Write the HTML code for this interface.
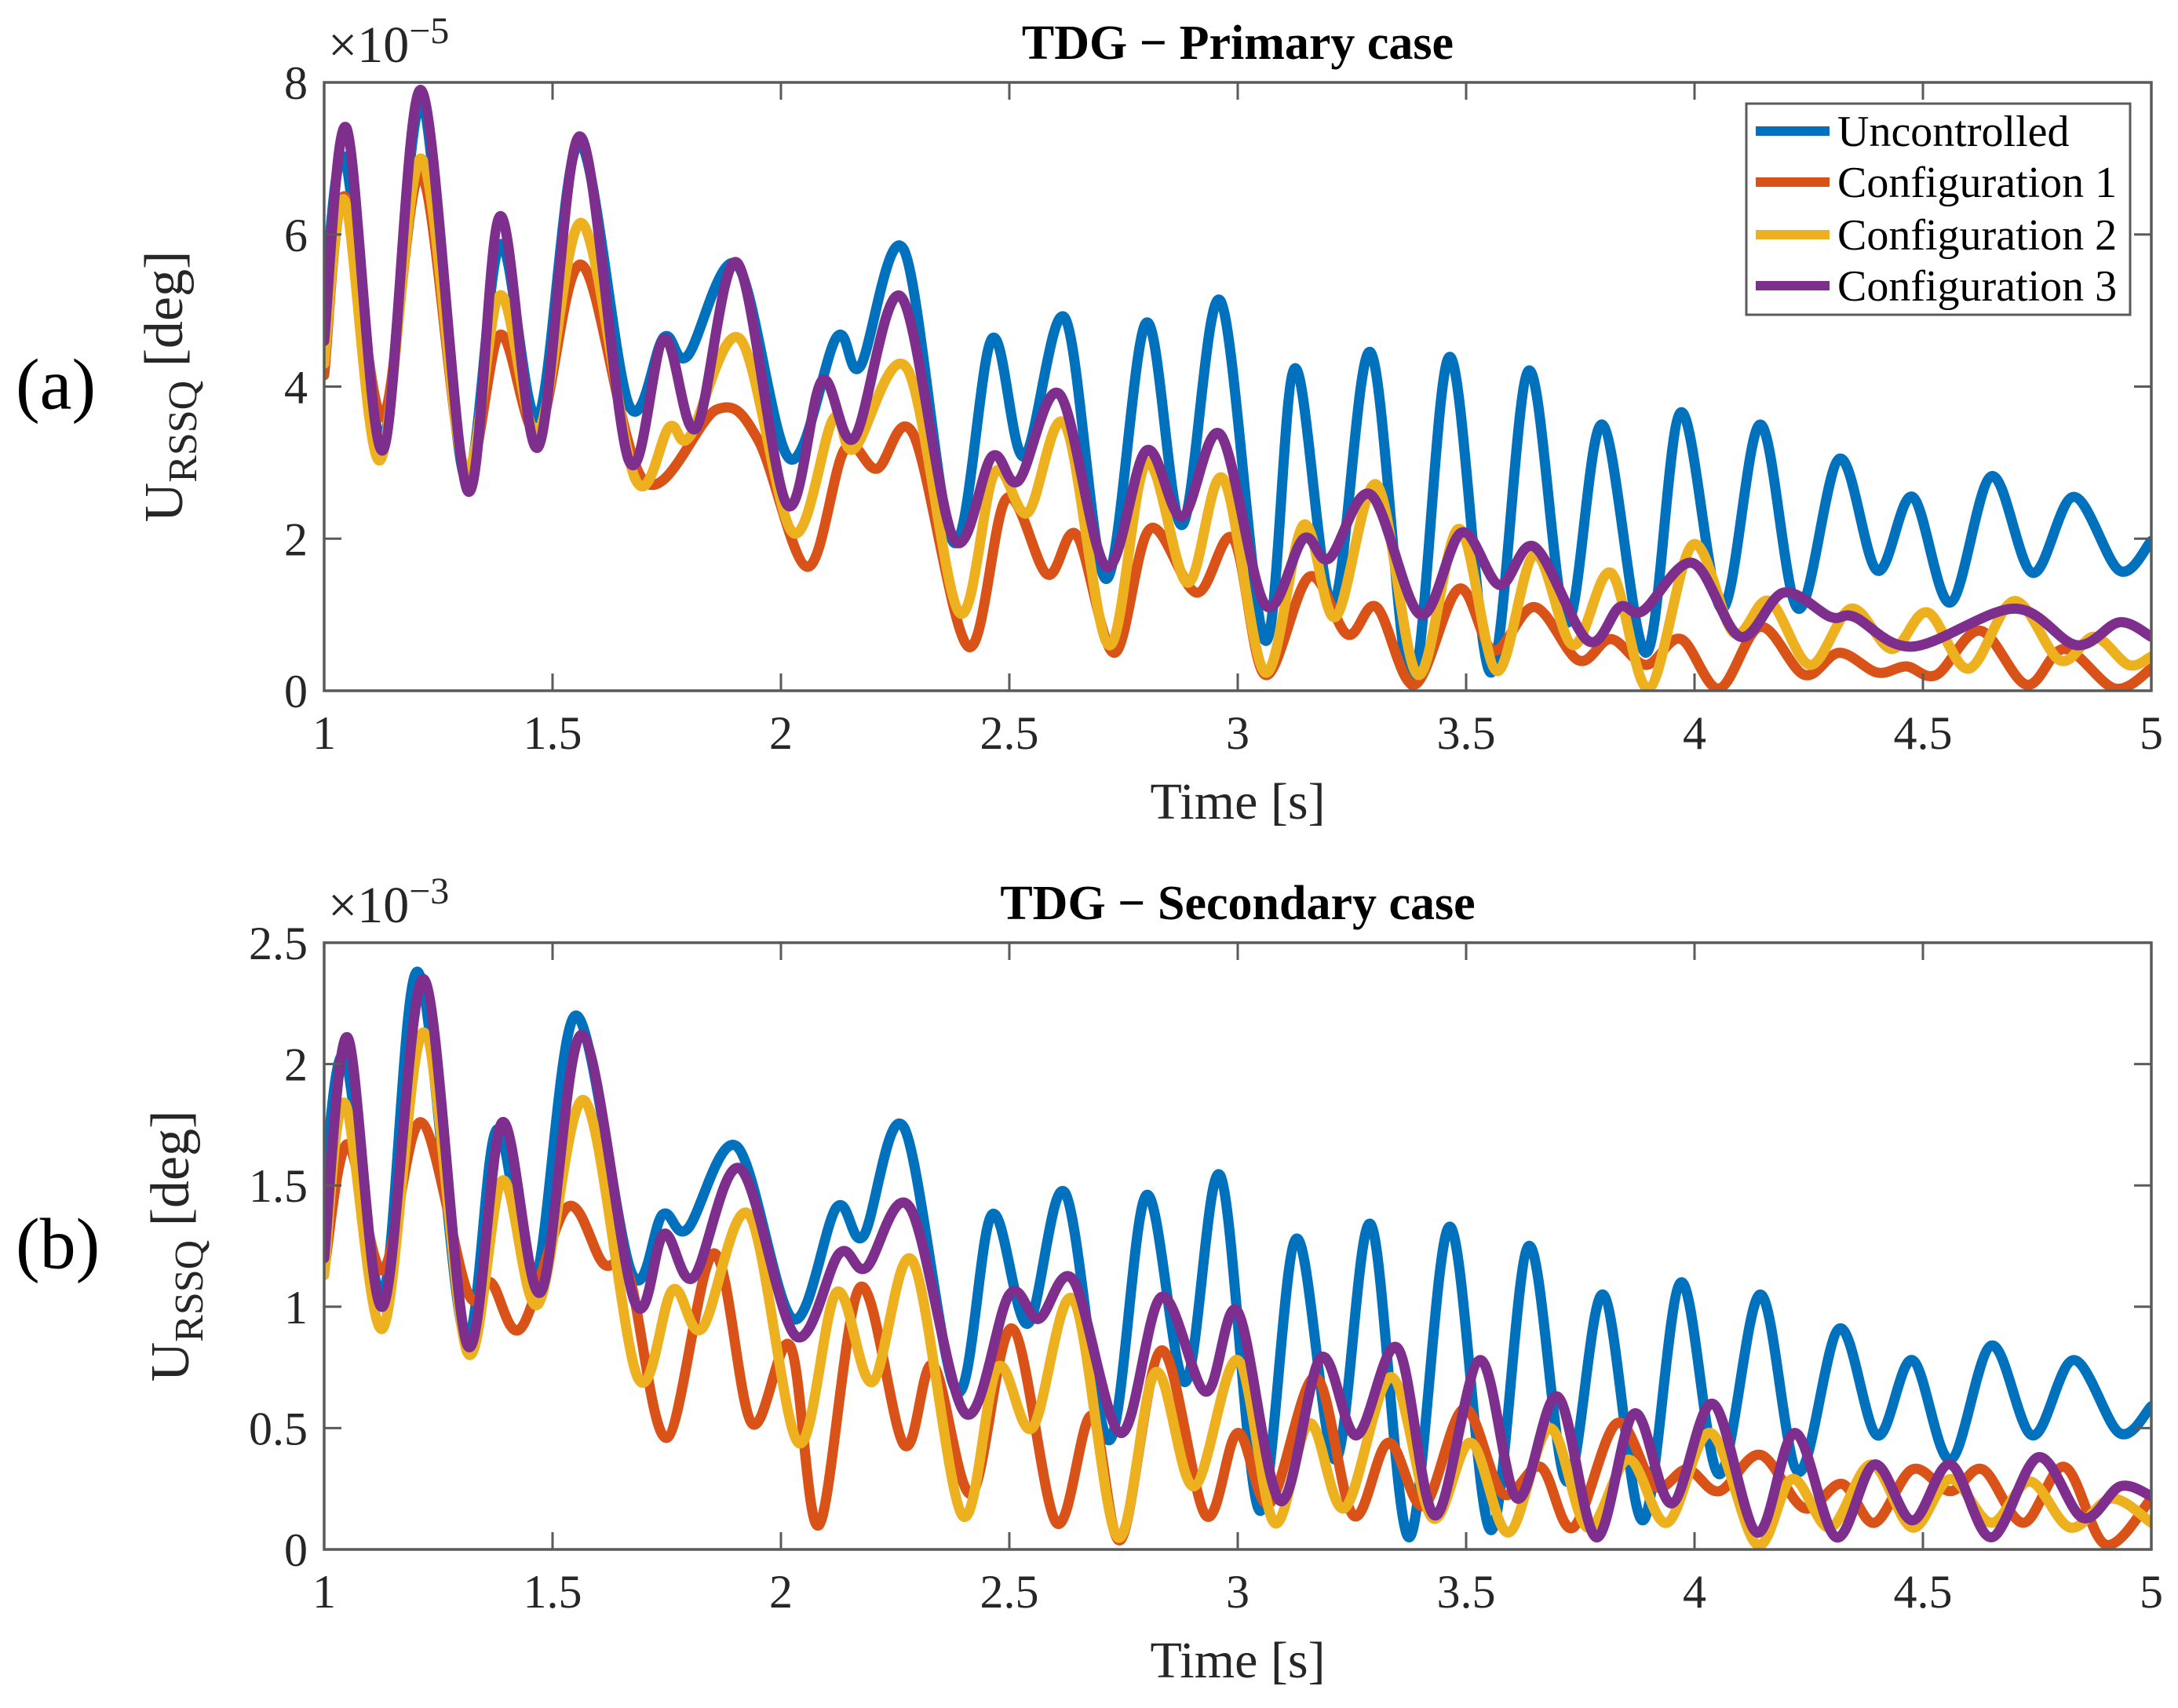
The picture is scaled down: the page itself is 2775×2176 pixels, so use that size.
<!DOCTYPE html>
<html><head><meta charset="utf-8"><style>
html,body{margin:0;padding:0;background:#fff;}
svg{display:block;font-family:"Liberation Serif",serif;}
</style></head><body>
<svg id="fig" width="2775" height="2176" viewBox="0 0 2775 2176" xmlns="http://www.w3.org/2000/svg"></svg>
<script>
// ---- Panel (a) data: TDG primary case (x1e-5 deg) ----
const aBlueT=[1,1.045,1.128,1.212,1.308,1.385,1.468,1.558,1.667,1.744,1.795,1.904,2.019,2.122,2.173,2.269,2.378,2.462,2.532,2.622,2.712,2.80,2.878,2.962,3.06,3.125,3.208,3.291,3.381,3.464,3.554,3.637,3.72,3.798,3.894,3.97,4.06,4.144,4.227,4.317,4.40,4.477,4.56,4.65,4.74,4.83,4.93,5];
const aBlueV=[5.1,7.0,3.3,7.7,2.8,5.87,3.6,7.2,3.76,4.65,4.4,5.6,3.05,4.65,4.26,5.8,1.95,4.63,3.08,4.9,1.47,4.84,2.18,5.13,0.66,4.24,1.13,4.45,0.08,4.39,0.24,4.21,0.9,3.5,0.5,3.66,1.08,3.5,1.08,3.05,1.58,2.55,1.16,2.82,1.55,2.55,1.58,1.97];
const aRedT=[1,1.045,1.128,1.212,1.308,1.385,1.468,1.564,1.70,1.86,1.95,2.058,2.14,2.21,2.29,2.41,2.494,2.583,2.647,2.73,2.808,2.91,2.99,3.06,3.157,3.24,3.304,3.387,3.484,3.56,3.65,3.746,3.817,3.894,3.97,4.054,4.144,4.24,4.317,4.40,4.464,4.53,4.625,4.727,4.81,4.92,5];
const aRedV=[4.15,6.5,3.6,6.8,2.9,4.68,3.4,5.6,2.76,3.7,3.3,1.63,3.18,2.92,3.37,0.58,2.53,1.53,2.05,0.5,2.13,1.29,2.0,0.21,1.5,0.74,1.1,0.08,1.34,0.53,1.1,0.4,0.68,0.34,0.68,0.03,0.84,0.21,0.5,0.24,0.32,0.21,0.79,0.08,0.55,0.03,0.29];
const aYelT=[1,1.045,1.122,1.212,1.308,1.385,1.468,1.564,1.68,1.756,1.80,1.91,2.026,2.115,2.16,2.276,2.39,2.468,2.54,2.622,2.718,2.80,2.89,2.968,3.06,3.144,3.214,3.304,3.394,3.484,3.567,3.65,3.734,3.817,3.90,3.996,4.086,4.163,4.253,4.343,4.432,4.51,4.60,4.70,4.80,4.875,4.95,5];
const aYelV=[4.3,6.45,3.03,7.0,2.9,5.2,3.4,6.15,2.8,3.47,3.34,4.63,2.08,3.58,3.18,4.24,1.03,2.87,2.34,3.5,0.6,3.0,1.42,2.79,0.24,2.18,0.97,2.71,0.21,2.13,0.26,1.79,0.6,1.55,0.03,1.92,0.76,1.18,0.34,1.08,0.55,1.03,0.29,1.18,0.4,0.71,0.34,0.45];
const aPurT=[1,1.049,1.128,1.212,1.314,1.385,1.468,1.56,1.667,1.744,1.814,1.904,2.013,2.09,2.16,2.263,2.378,2.462,2.52,2.61,2.712,2.80,2.878,2.962,3.06,3.144,3.20,3.291,3.40,3.49,3.573,3.65,3.766,3.836,3.887,3.996,4.10,4.195,4.298,4.35,4.477,4.70,4.836,4.93,5];
const aPurV=[4.6,7.4,3.16,7.9,2.63,6.24,3.2,7.29,3.03,4.63,3.45,5.63,2.45,4.08,3.32,5.18,2.0,3.08,2.76,3.9,1.63,3.16,2.29,3.37,1.13,2.0,1.74,2.58,1.0,2.08,1.39,1.89,0.66,1.1,1.05,1.68,0.71,1.29,0.97,0.97,0.58,1.08,0.6,0.9,0.71];
// ---- Panel (b) data: TDG secondary case (x1e-3 deg) ----
const bBlueT=[1,1.045,1.128,1.205,1.308,1.378,1.46,1.551,1.673,1.741,1.795,1.904,2.026,2.122,2.18,2.269,2.385,2.462,2.54,2.622,2.718,2.80,2.885,2.962,3.048,3.128,3.214,3.291,3.375,3.464,3.554,3.637,3.72,3.80,3.887,3.97,4.054,4.144,4.227,4.317,4.40,4.477,4.56,4.65,4.74,4.83,4.93,5];
const bBlueV=[1.5,2.03,1.05,2.38,0.87,1.73,1.1,2.2,1.14,1.38,1.32,1.66,0.95,1.41,1.29,1.74,0.65,1.38,0.93,1.47,0.45,1.46,0.69,1.54,0.16,1.28,0.37,1.34,0.05,1.33,0.08,1.25,0.28,1.05,0.12,1.1,0.31,1.05,0.32,0.91,0.47,0.78,0.37,0.84,0.47,0.78,0.48,0.59];
const bRedT=[1,1.051,1.128,1.212,1.314,1.365,1.43,1.532,1.61,1.667,1.75,1.853,1.936,2.02,2.083,2.173,2.27,2.333,2.417,2.506,2.603,2.68,2.744,2.833,2.93,3.0,3.07,3.17,3.253,3.33,3.407,3.496,3.58,3.663,3.734,3.83,3.913,3.984,4.054,4.144,4.24,4.323,4.394,4.477,4.56,4.631,4.72,4.81,4.90,5];
const bRedV=[1.15,1.67,1.15,1.76,1.06,1.1,0.91,1.41,1.18,1.13,0.46,1.22,0.52,0.84,0.1,1.08,0.43,0.76,0.23,0.91,0.11,0.55,0.04,0.82,0.14,0.48,0.19,0.71,0.14,0.44,0.18,0.58,0.23,0.34,0.09,0.52,0.26,0.33,0.24,0.39,0.17,0.27,0.11,0.33,0.24,0.33,0.11,0.34,0.02,0.21];
const bYelT=[1,1.045,1.128,1.218,1.314,1.39,1.468,1.57,1.686,1.763,1.827,1.93,2.038,2.122,2.2,2.288,2.397,2.474,2.55,2.64,2.737,2.82,2.904,3.0,3.08,3.157,3.234,3.336,3.426,3.51,3.593,3.683,3.766,3.855,3.94,4.035,4.137,4.214,4.297,4.387,4.477,4.56,4.65,4.734,4.823,4.913,5];
const bYelV=[1.13,1.84,0.91,2.13,0.81,1.52,1.01,1.85,0.71,1.07,0.91,1.38,0.44,1.06,0.69,1.19,0.14,0.75,0.5,1.03,0.05,0.73,0.26,0.78,0.11,0.52,0.17,0.71,0.13,0.44,0.07,0.5,0.09,0.37,0.11,0.48,0.02,0.29,0.09,0.35,0.09,0.29,0.11,0.28,0.09,0.21,0.11];
const bPurT=[1,1.051,1.128,1.218,1.314,1.39,1.474,1.564,1.68,1.744,1.808,1.91,2.032,2.128,2.186,2.282,2.404,2.5,2.564,2.64,2.744,2.833,2.93,3.0,3.093,3.182,3.26,3.35,3.432,3.53,3.612,3.70,3.785,3.868,3.95,4.04,4.137,4.22,4.31,4.394,4.477,4.56,4.65,4.753,4.85,4.932,5];
const bPurV=[1.2,2.11,1.0,2.35,0.84,1.76,1.06,2.12,1.02,1.3,1.12,1.57,0.88,1.22,1.16,1.41,0.56,1.05,0.95,1.11,0.48,1.04,0.65,0.98,0.2,0.79,0.47,0.83,0.14,0.78,0.21,0.63,0.05,0.56,0.19,0.6,0.07,0.48,0.05,0.35,0.12,0.35,0.05,0.38,0.13,0.26,0.22];
const xTicks=[1,1.5,2,2.5,3,3.5,4,4.5,5];
const aYTicks=[0,2,4,6,8];
const bYTicks=[0,0.5,1,1.5,2,2.5];
const legendLabels=["Uncontrolled","Configuration 1","Configuration 2","Configuration 3"];
const colors=["#0072BD","#D95319","#EDB120","#7E2F8E"];

const NS="http://www.w3.org/2000/svg";
const svg=document.getElementById('fig');
function mk(tag,attrs,parent){const e=document.createElementNS(NS,tag);for(const k in attrs)e.setAttribute(k,attrs[k]);(parent||svg).appendChild(e);return e;}
const L=413,R=2741;
function xs(t){return L+(t-1)/4*(R-L);}
function smoothPath(pts){
  let d="M"+pts[0][0].toFixed(1)+","+pts[0][1].toFixed(1);
  for(let i=0;i<pts.length-1;i++){
    const p0=pts[Math.max(0,i-1)],p1=pts[i],p2=pts[i+1],p3=pts[Math.min(pts.length-1,i+2)];
    const c1x=p1[0]+(p2[0]-p0[0])/6,c1y=p1[1]+(p2[1]-p0[1])/6;
    const c2x=p2[0]-(p3[0]-p1[0])/6,c2y=p2[1]-(p3[1]-p1[1])/6;
    d+=" C"+c1x.toFixed(1)+","+c1y.toFixed(1)+" "+c2x.toFixed(1)+","+c2y.toFixed(1)+" "+p2[0].toFixed(1)+","+p2[1].toFixed(1);
  }
  return d;
}
function panel(cfg){
  const g=mk('g',{});
  
  
  const T=cfg.top,B=cfg.bottom,ymax=cfg.ymax;
  const ys=v=>B-(v/ymax)*(B-T);
  const clipId=cfg.name+'-clip';
  const cp=mk('clipPath',{id:clipId},g);mk('rect',{x:L,y:T,width:R-L,height:B-T},cp);
  const sg=mk('g',{'clip-path':'url(#'+clipId+')'},g);
  cfg.series.forEach((s,i)=>{
    const pts=s.t.map((t,j)=>[xs(t),ys(s.v[j])]);
    const p=mk('path',{d:smoothPath(pts),fill:'none',stroke:colors[i],'stroke-width':13,'stroke-linejoin':'round','stroke-linecap':'round'},sg);
    
    
  });
  const box=mk('rect',{x:L,y:T,width:R-L,height:B-T,fill:'none',stroke:'#5a5a5a','stroke-width':3.5},g);
  
  
  xTicks.forEach(t=>{
    const x=xs(t);
    mk('line',{x1:x,y1:B,x2:x,y2:B-22,stroke:'#5a5a5a','stroke-width':3},g);
    mk('line',{x1:x,y1:T,x2:x,y2:T+22,stroke:'#5a5a5a','stroke-width':3},g);
    const tx=mk('text',{x:x,y:B+74,'font-size':60,'text-anchor':'middle',fill:'#262626'},g);
    tx.textContent=String(t);
    
    
  });
  cfg.yTicks.forEach(v=>{
    const y=ys(v);
    mk('line',{x1:L,y1:y,x2:L+22,y2:y,stroke:'#5a5a5a','stroke-width':3},g);
    mk('line',{x1:R,y1:y,x2:R-22,y2:y,stroke:'#5a5a5a','stroke-width':3},g);
    const tx=mk('text',{x:392,y:y+21,'font-size':60,'text-anchor':'end',fill:'#262626'},g);
    tx.textContent=String(v);
    
    
  });
  const ex=mk('text',{x:418,y:T-26,'font-size':66,fill:'#262626'},g);
  
  
  ex.innerHTML='×10<tspan dy="-24" font-size="48">−'+cfg.exp+'</tspan>';
  const ti=mk('text',{x:(L+R)/2,y:T-30,'font-size':62,'font-weight':'bold','text-anchor':'middle',fill:'#000'},g);
  ti.textContent=cfg.title;
  
  
  const xl=mk('text',{x:(L+R)/2,y:B+163,'font-size':66,'text-anchor':'middle',fill:'#262626'},g);
  xl.textContent='Time [s]';
  
  
  const cy=(T+B)/2;
  const yl=mk('text',{x:cfg.ylx,y:cy,'font-size':70,'text-anchor':'middle',fill:'#262626',transform:'rotate(-90 '+cfg.ylx+' '+cy+')'},g);
  yl.innerHTML='U<tspan dy="18" font-size="52">RSSQ</tspan><tspan dy="-18"> [deg]</tspan>';
  
  
  const pl=mk('text',{x:20,y:cy+28,'font-size':92,fill:'#000'},g);
  pl.textContent=cfg.label;
  
  
  return g;
}
panel({name:'panel-a',top:105,bottom:880,ymax:8,yTicks:aYTicks,exp:'5',title:'TDG − Primary case',label:'(a)',ylx:232,
  series:[{key:'uncontrolled',t:aBlueT,v:aBlueV},{key:'config1',t:aRedT,v:aRedV},{key:'config2',t:aYelT,v:aYelV},{key:'config3',t:aPurT,v:aPurV}]});
panel({name:'panel-b',top:1201,bottom:1974,ymax:2.5,yTicks:bYTicks,exp:'3',title:'TDG − Secondary case',label:'(b)',ylx:240,
  series:[{key:'uncontrolled',t:bBlueT,v:bBlueV},{key:'config1',t:bRedT,v:bRedV},{key:'config2',t:bYelT,v:bYelV},{key:'config3',t:bPurT,v:bPurV}]});
const lg=mk('g',{});


mk('rect',{x:2225,y:132,width:489,height:269,fill:'#fff',stroke:'#5a5a5a','stroke-width':3},lg);
const rowY=[167,232,299,364];
legendLabels.forEach((lab,i)=>{
  const e=mk('g',{},lg);
  
  
  mk('line',{x1:2237,y1:rowY[i],x2:2331,y2:rowY[i],stroke:colors[i],'stroke-width':12},e);
  const t=mk('text',{x:2341,y:rowY[i]+19,'font-size':56,fill:'#000'},e);
  t.textContent=lab;
});
</script>
</body></html>
